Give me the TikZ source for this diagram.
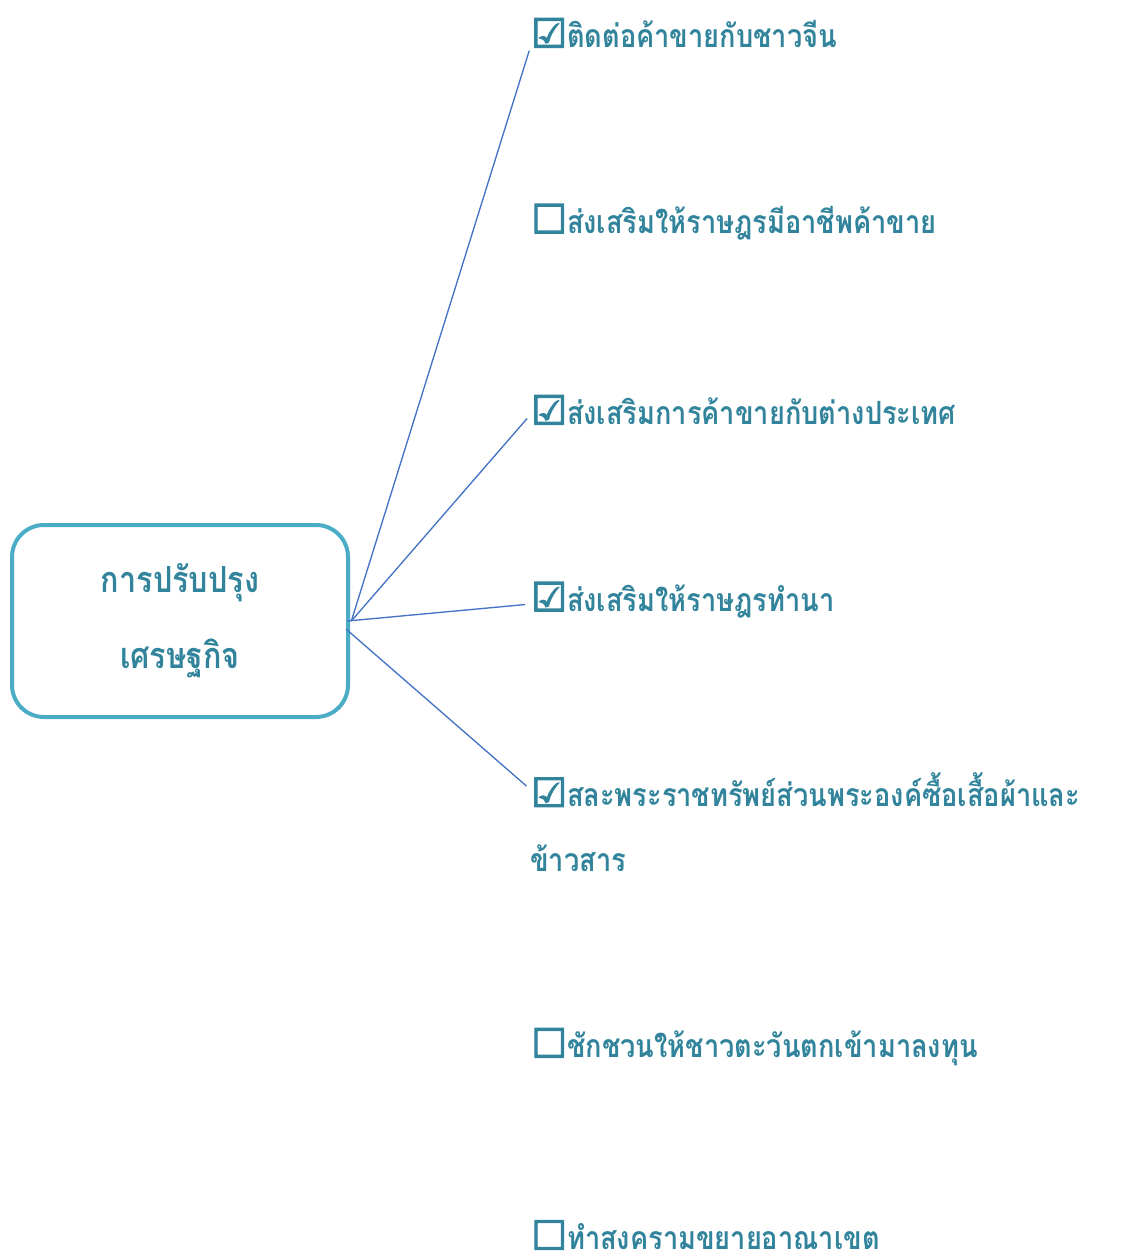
\documentclass[tikz,border=0pt]{standalone}
\usepackage{fontspec}
\newfontfamily\thaifont[Script=Thai,FakeStretch=0.85]{Loma}
\newfontfamily\tickfont[FakeBold=3]{DejaVu Sans}
\definecolor{textteal}{HTML}{31849B}
\definecolor{boxblue}{HTML}{4BACC6}
\definecolor{lineblue}{HTML}{4472C4}
\tikzset{
    topic/.style={draw=boxblue, line width=3pt, rounded corners=24pt,
        minimum width=252pt, minimum height=144pt, text=textteal, align=center,
        font=\thaifont\bfseries\fontsize{27}{57}\selectfont},
    item/.style={anchor=west, inner sep=0pt, text=textteal,
        font=\thaifont\bfseries\fontsize{24}{51}\selectfont},
    link/.style={lineblue, line width=1pt, shorten >=4.5pt},
}
\newcommand{\yes}{{\tickfont\fontsize{30}{30}\selectfont ☑}}
\newcommand{\no}{{\tickfont\fontsize{30}{30}\selectfont ☐}}
\begin{document}
\begin{tikzpicture}[x=0.75pt,y=-0.75pt]

    \useasboundingbox (0,0) rectangle (1127,1253);

    \node [topic] (econ) at (180,621) {การปรับปรุง\\เศรษฐกิจ};

    \node [item] (i1) at (531,33) {\yes ติดต่อค้าขายกับชาวจีน};
    \node [item] (i2) at (531,222) {\no ส่งเสริมให้ราษฎรมีอาชีพค้าขาย};
    \node [item] (i3) at (531,410) {\yes ส่งเสริมการค้าขายกับต่างประเทศ};
    \node [item] (i4) at (531,600) {\yes ส่งเสริมให้ราษฎรทำนา};
    \node [item] (i5) at (531,790) {\yes สละพระราชทรัพย์ส่วนพระองค์ซื้อเสื้อผ้าและ};
    \node [item] (i5b) at (530,858) {ข้าวสาร};
    \node [item] (i6) at (531,1047) {\no ชักชวนให้ชาวตะวันตกเข้ามาลงทุน};
    \node [item] (i7) at (531,1235) {\no ทำสงครามขยายอาณาเขต};

    \draw [link] ([xshift=1pt]econ.east) -- ([yshift=-9pt]i1.west);
    \draw [link] ([xshift=1pt]econ.east) -- ([yshift=-3pt]i3.west);
    \draw [link] ([xshift=-2pt]econ.east) -- ([yshift=-3pt]i4.west);
    \draw [link] ([xshift=-3pt,yshift=-6pt]econ.east) -- (i5.west);
\end{tikzpicture}
\end{document}
